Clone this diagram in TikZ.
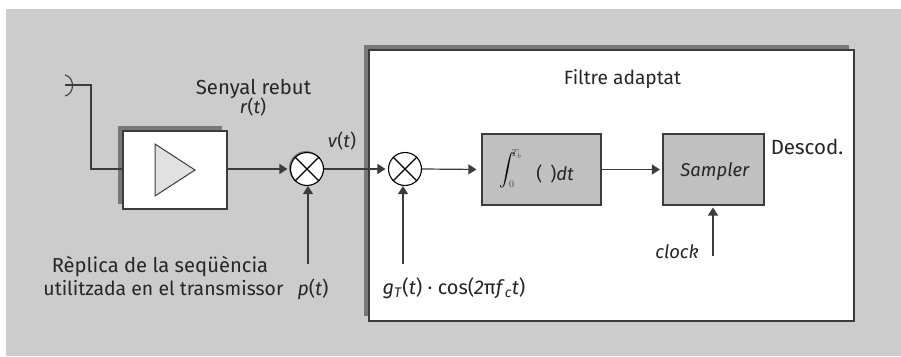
\documentclass[tikz,border=0pt]{standalone}
\usepackage{fontspec}
\setmainfont{Fira Sans}
\usetikzlibrary{arrows.meta}
\definecolor{bggrey}{RGB}{204,204,204}
\definecolor{shadowgrey}{RGB}{120,120,120}
\definecolor{boxgrey}{RGB}{192,192,192}
\definecolor{edgegrey}{RGB}{60,60,60}
\definecolor{triggrey}{RGB}{225,225,225}
\tikzset{
 x=1pt,y=-1pt,
 txt/.style={inner sep=0pt,anchor=base,font=\fontsize{#1}{20}\selectfont,text=black!85},
 txt/.default=18.5,
 wire/.style={draw=edgegrey,line width=1.2pt},
 arr/.style={wire,-{Triangle[length=8pt,width=10pt]},shorten >=2.5pt},
 whitebox/.style={fill=white,draw=edgegrey,line width=1.2pt,inner sep=0pt},
 greybox/.style={fill=boxgrey,draw=edgegrey,line width=1.2pt,inner sep=0pt},
 mixer/.style={circle,draw=black,fill=white,line width=1.1pt,minimum size=33pt,inner sep=0pt},
}
\begin{document}
\begin{tikzpicture}
\useasboundingbox (0,0) rectangle (901,356);
\fill[white] (0,0) rectangle (901,356);
\fill[bggrey] (6,9) rectangle (901,356);
% shadows
\fill[shadowgrey] (118,126) rectangle (222,204);
\fill[shadowgrey] (364,45) rectangle (849,316);
% boxes
\node[whitebox,minimum width=104pt,minimum height=78pt] (amp) at (175,170) {};
\node[whitebox,minimum width=485pt,minimum height=271pt] (filter) at (611.5,185.5) {};
\node[greybox,minimum width=119pt,minimum height=71pt] (int) at (541.5,169.5) {};
\node[greybox,minimum width=101pt,minimum height=71pt] (samp) at (713.5,169.5) {};
\draw[draw=edgegrey,fill=triggrey,line width=1pt] (155,144) -- (195,170) -- (155,196) -- cycle;
% mixers
\fill[shadowgrey] (306,168) circle[radius=17pt];
\node[mixer] (m1) at (307,169) {};
\node[mixer] (m2) at (405,169) {};
\foreach \m in {m1,m2}{
 \draw[black,line width=1.1pt] (\m.45) -- (\m.225) (\m.135) -- (\m.-45);
}
% antenna
\coordinate (ant) at (65,85);
\coordinate (bend) at (91,85);
\coordinate (bend2) at (91,169);
\draw[wire] (ant) -- (bend) -- (bend2) -- (amp.west |- bend2);
\draw[edgegrey,line width=1.1pt] (65,75) .. controls (75,77) and (75,94) .. (65,96);
% connectors
\coordinate (p1) at (308,264);
\coordinate (p2) at (403,264);
\coordinate (p3) at (713,256);
\coordinate (ck) at (713,205);
\draw[arr] (amp.east |- m1) -- (m1.west);
\draw[arr] (m1.east) -- (m2.west);
\draw[arr,shorten >=5pt] (m2.east) -- (int.west);
\draw[arr] (int.east) -- (samp.west);
\draw[arr,shorten >=0pt] (p1) -- (p1 |- m1.south);
\draw[arr,shorten >=0pt] (p2) -- (p2 |- m2.south);
\draw[arr] (p3) -- (ck);
% text
\node[txt=20.3] (t1) at (253.5,94) {Senyal rebut};
\node[txt] (t2) at (253,113) {\textit{r}(\textit{t})};
\node[txt] (t3) at (342,147) {\textit{v}(\textit{t})};
\node[txt=20.2] (t4) at (160,272) {Rèplica de la seqüència};
\node[txt=19.4] (t5) at (163.5,295) {utilitzada en el transmissor};
\node[txt=19.5] (t6) at (313,295) {\textit{p}(\textit{t})};
\node[txt=19.9] (t7) at (454,294) {\textit{g}\textsubscript{\textit{T}}(\textit{t}) · cos(\textit{2}π\textit{f}\textsubscript{\textit{c}}\textit{t})};
\node[txt=19.2] (t8) at (622.5,84) {Filtre adaptat};
\node[txt=20.5] (t9) at (807,154) {Descod.};
\node[txt] (t10) at (715,176) {\textit{Sampler}};
\node[txt] (t11) at (677,258) {\textit{clock}};
\node[txt] (t12) at (555,180) {(\hspace{8pt})\textit{dt}};
\node[inner sep=0pt,scale=1.6,text=black] (t13) at (507,170) {$\displaystyle\int$};
\node[inner sep=0pt,scale=1,text=black!75] (t14) at (516.5,154) {$T_b$};
\node[inner sep=0pt,scale=1,text=black!75] (t15) at (511.5,184) {$0$};
\end{tikzpicture}
\end{document}
